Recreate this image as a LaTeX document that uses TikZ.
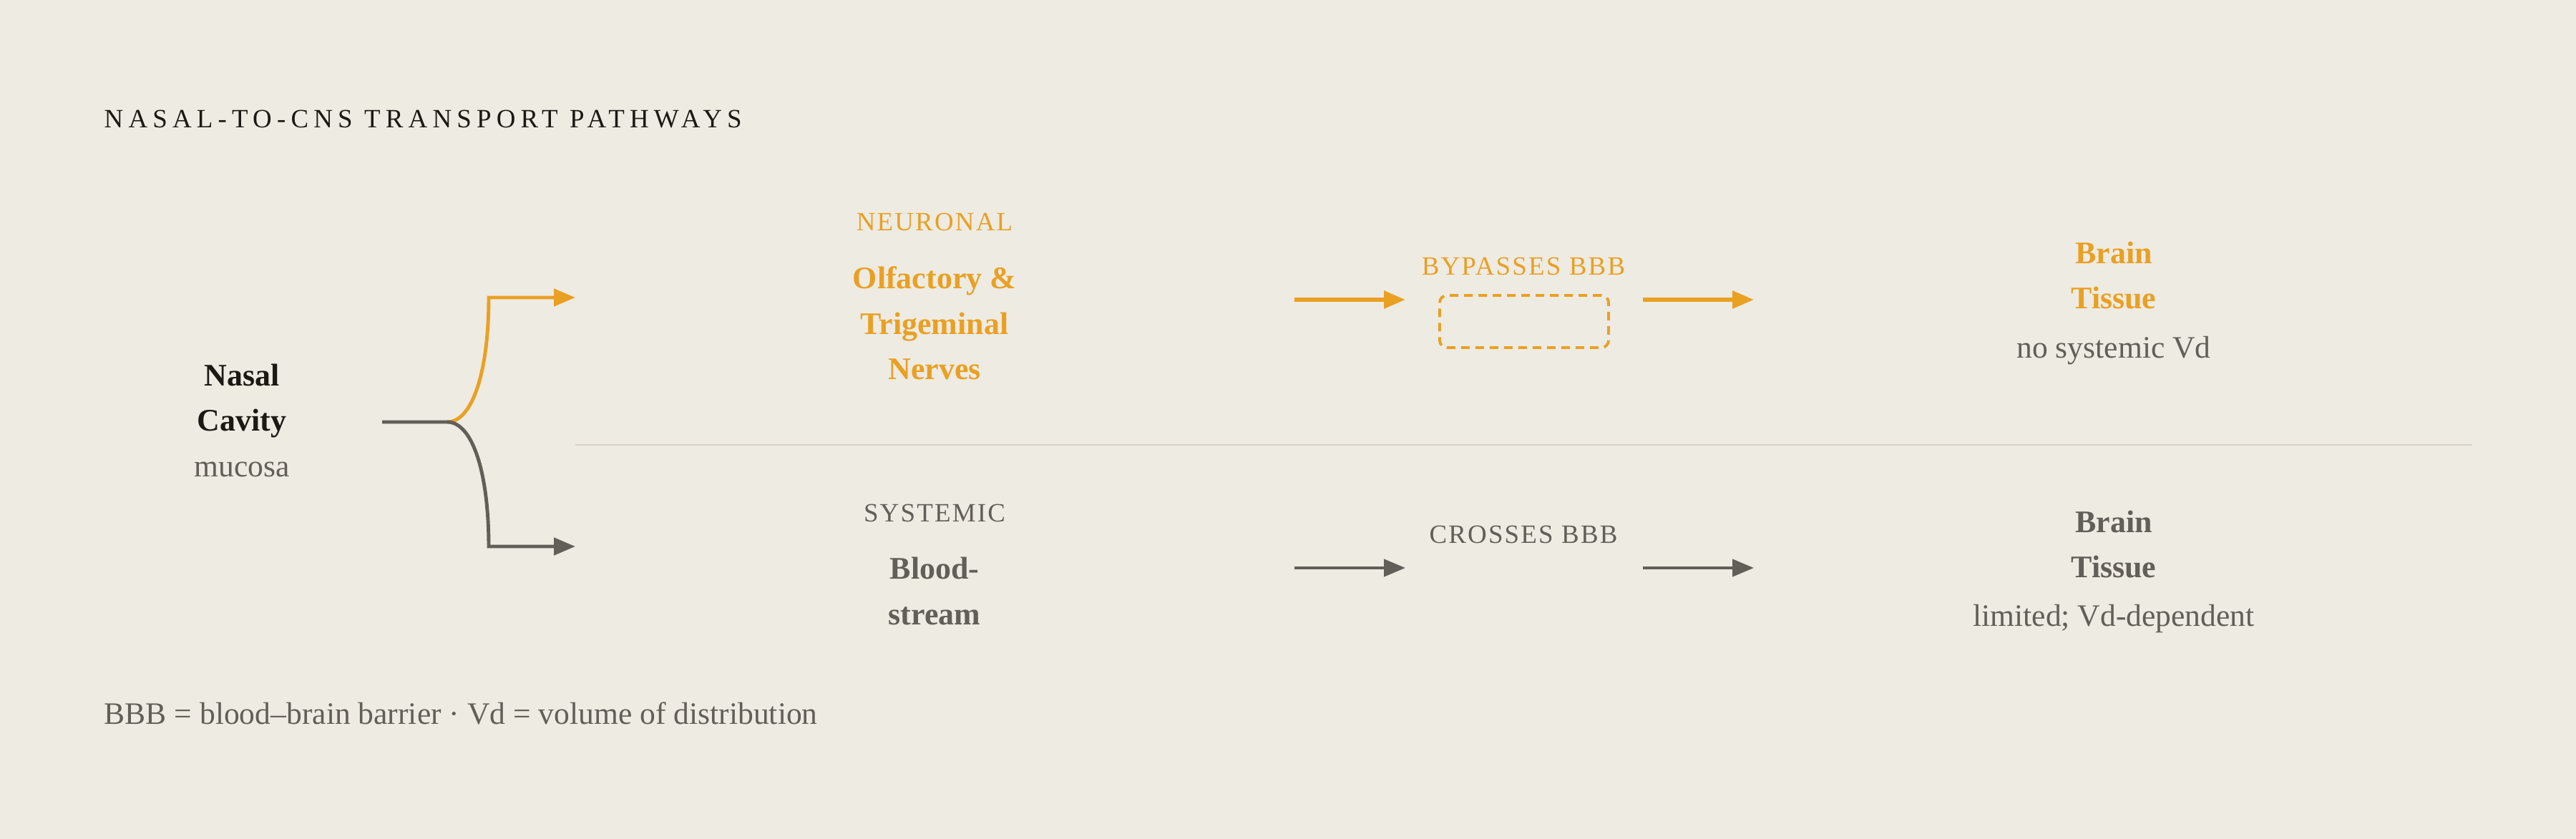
\documentclass[tikz,border=0pt]{standalone}
\usepackage{fontspec}
\setmainfont{Liberation Serif}
\usetikzlibrary{arrows.meta}
\definecolor{paper}{HTML}{EEEBE3}
\definecolor{amber}{HTML}{E9A023}
\definecolor{slate}{HTML}{625E58}
\definecolor{ink}{HTML}{1C1813}
\definecolor{divider}{HTML}{D6D2CA}

\begin{document}
\begin{tikzpicture}[heading/.style={anchor=base west, inner sep=0pt, text=ink, font=\fontsize{10.5}{12}\selectfont\addfontfeature{LetterSpace=19.5}},
    tag/.style={anchor=base, inner sep=0pt, font=\fontsize{10.5}{12}\selectfont\addfontfeature{LetterSpace=6}},
    term/.style={anchor=base, inner sep=0pt, align=center, font=\fontsize{12.5}{18.2}\selectfont\bfseries},
    sub/.style={anchor=base, inner sep=0pt, text=slate, font=\fontsize{12.4}{15}\selectfont},
    gate/.style={draw=amber, line width=1.1pt, dash pattern=on 0.12cm off 0.08cm, rounded corners=0.1cm, minimum width=2.36cm, minimum height=0.73cm, inner sep=0pt},
    arr/.style={draw, line width=1.4pt, -{Triangle[length=0.3cm,width=0.24cm]}}]
    \fill[paper] (0,0) rectangle (36,-11.73);

    \node[heading] (title) at (1.45,-1.79) {NASAL-TO-CNS TRANSPORT PATHWAYS};

    \node[term, text=ink] (nasal) at (3.38,-6.03) {Nasal\\Cavity};
    \node[sub] (mucosa) at (3.38,-6.67) {mucosa};

    \node[tag, text=amber] (neuronal) at (13.06,-3.23) {NEURONAL};
    \node[term, text=amber] (nerves) at (13.06,-5.31) {Olfactory \&\\Trigeminal\\Nerves};
    \node[tag, text=slate] (systemic) at (13.06,-7.30) {SYSTEMIC};
    \node[term, text=slate] (blood) at (13.06,-8.73) {Blood-\\stream};

    \node[tag, text=amber] (bypass) at (21.29,-3.85) {BYPASSES BBB};
    \node[gate] (barrier) at (21.30,-4.495) {};
    \node[tag, text=slate] (crosses) at (21.29,-7.60) {CROSSES BBB};

    \node[term, text=amber] (braintop) at (29.54,-4.32) {Brain\\Tissue};
    \node[sub] (novd) at (29.54,-5.01) {no systemic Vd};
    \node[term, text=slate] (brainbot) at (29.54,-8.08) {Brain\\Tissue};
    \node[sub] (limited) at (29.54,-8.76) {limited; Vd-dependent};

    \node[sub, anchor=base west] (key) at (1.45,-10.12) {BBB = blood–brain barrier · Vd = volume of distribution};

    \draw[divider, line width=0.85pt] (8.04,-6.22) -- (34.55,-6.22);

    % fork out of the nasal cavity
    \coordinate (stem) at (5.34,-5.90);
    \coordinate (fork) at (6.25,-5.90);
    \coordinate (upbend) at (6.83,-4.16);
    \coordinate (uptip) at (8.04,-4.16);
    \coordinate (downbend) at (6.83,-7.64);
    \coordinate (downtip) at (8.04,-7.64);
    \draw[arr, amber] (fork) .. controls +(0.35,0) and +(0,-1.04) .. (upbend) -- (uptip);
    \draw[arr, slate] (stem) -- (fork) .. controls +(0.35,0) and +(0,1.04) .. (downbend) -- (downtip);

    % pathway arrows
    \coordinate (nin) at (18.09,-4.19);
    \coordinate (nto) at (19.64,-4.19);
    \coordinate (nout) at (22.96,-4.19);
    \coordinate (nend) at (24.51,-4.19);
    \coordinate (sin) at (18.09,-7.94);
    \coordinate (sto) at (19.64,-7.94);
    \coordinate (sout) at (22.96,-7.94);
    \coordinate (send) at (24.51,-7.94);
    \draw[arr, amber, line width=1.7pt] (nin) -- (nto);
    \draw[arr, amber, line width=1.7pt] (nout) -- (nend);
    \draw[arr, slate, line width=1.2pt] (sin) -- (sto);
    \draw[arr, slate, line width=1.2pt] (sout) -- (send);
\end{tikzpicture}
\end{document}
